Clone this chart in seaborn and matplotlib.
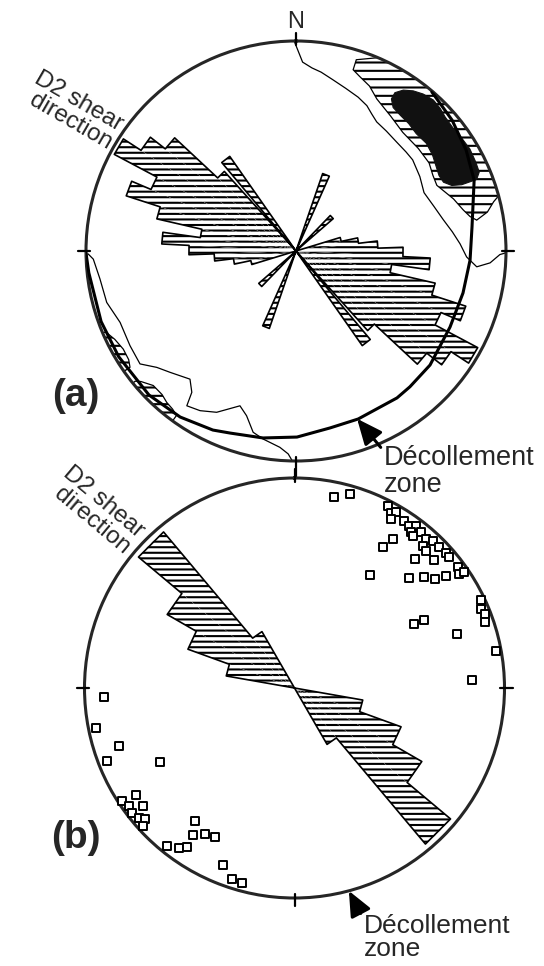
import numpy as np
import matplotlib
matplotlib.use('Agg')
import matplotlib.pyplot as plt
import seaborn as sns

sns.set_style('white')
plt.rcParams['font.family'] = ['Liberation Sans', 'DejaVu Sans']
plt.rcParams['hatch.linewidth'] = 1.5

# ---------------- rose diagrams (axial data, drawn on both ends)
# (a) 5 degree bins: bin start azimuth, bar length (fraction of primitive radius)
rose_a_start = [253, 258, 263, 268, 273, 278, 283, 288, 293, 298, 303, 308, 313, 320, 199, 224]
rose_a_len = [0.22, 0.30, 0.39, 0.51, 0.64, 0.46, 0.68, 0.85, 0.75, 0.98, 0.88, 0.79, 0.51, 0.55, 0.39, 0.235]
rose_a_width = 5
# (b) 10 degree bins
rose_b_start = [280, 290, 300, 310, 320]
rose_b_len = [0.33, 0.54, 0.70, 0.97, 0.31]
rose_b_width = 10

# ---------------- (a) pole density contours (azimuth, radius)
low_ne_az = [359.5, 2, 5, 8, 12, 17, 22, 26, 29, 32, 37, 43, 48, 52, 59, 65.5, 72, 78, 83, 87.5, 92, 95, 93.5, 91, 90.5]
low_ne_r = [1.0, 0.90, 0.875, 0.86, 0.835, 0.81, 0.79, 0.77, 0.745, 0.725, 0.715, 0.706, 0.705, 0.705, 0.688, 0.67,
            0.69, 0.717, 0.75, 0.782, 0.813, 0.864, 0.926, 0.971, 1.0]
low_sw_az = [269.2, 267.7, 261.9, 254.8, 247.9, 240.3, 234.1, 230.1, 226.1, 219.6, 216.4, 215.2, 211, 206.2,
             199.9, 196.7, 193.3, 189.9, 184.7, 182.2, 181]
low_sw_r = [0.99, 0.966, 0.943, 0.934, 0.904, 0.91, 0.917, 0.864, 0.833, 0.792, 0.836, 0.902, 0.887, 0.856,
            0.784, 0.819, 0.887, 0.909, 0.938, 0.967, 1.0]

mid_ne_az = [17.5, 17.5, 20, 24, 28, 35, 42, 50, 56.5, 61, 65, 71.7, 76.2, 78.8, 80.3, 78.5, 76, 74, 65, 55, 45,
             35, 25, 17.5]
mid_ne_r = [0.955, 0.905, 0.885, 0.86, 0.82, 0.785, 0.76, 0.76, 0.76, 0.745, 0.74, 0.79, 0.82, 0.845, 0.873, 0.93,
            0.97, 1.02, 1.02, 1.02, 1.02, 1.02, 1.02, 0.955]
mid_sw1_az = [247, 244, 240.4, 237, 235, 235, 240, 247]
mid_sw1_r = [0.985, 0.96, 0.946, 0.95, 0.965, 1.02, 1.02, 1.02]
mid_sw2_az = [231, 229.9, 226.7, 223, 220.5, 218, 216, 216, 224, 231]
mid_sw2_r = [0.985, 0.965, 0.934, 0.935, 0.948, 0.955, 0.968, 1.02, 1.02, 1.02]

high_az = [32.1, 32, 33.7, 36.2, 39, 42.3, 45.3, 48, 51.8, 55.9, 59.6, 63.7, 66.7, 68.4, 68.2, 67.2, 65, 62.2,
           58.7, 54.8, 50.4, 45.7, 41.5, 37.6, 34.1]
high_r = [0.855, 0.889, 0.921, 0.945, 0.962, 0.972, 0.966, 0.955, 0.95, 0.955, 0.96, 0.955, 0.95, 0.925,
          0.85, 0.805, 0.775, 0.77, 0.78, 0.795, 0.805, 0.80, 0.81, 0.815, 0.825]

# décollement zone trace in (a)
dec_az = [40.5, 50, 59.3, 68.3, 82.2, 93, 104.1, 116.3, 130.4, 140, 145.5, 159.7, 169.1, 179.7, 190, 199.9,
          204.9, 214.9, 225.6, 239.2, 250.1, 264.0, 269.4]
dec_r = [0.996, 0.970, 0.942, 0.913, 0.846, 0.830, 0.820, 0.818, 0.838, 0.844, 0.849, 0.853, 0.858, 0.886, 0.904,
         0.922, 0.940, 0.964, 0.980, 0.983, 0.987, 0.992, 1.0]

# ---------------- (b) poles (azimuth, radius)
pole_az = [11.6, 15.9, 27.1, 28.9, 30.1, 29.8, 33.3, 35.3, 36.9, 36.9, 39.1, 37.8, 41.4, 43.2, 42.0, 43.8, 45.8,
           48.2, 33.4, 32.0, 43.1, 47.5, 49.8, 53.5, 55.3, 55.7, 33.5, 46.2, 49.4, 52.3, 53.4, 64.8, 66.9, 68.7,
           70.9, 61.8, 62.5, 71.8, 79.5, 87.4,
           267.4, 258.6, 251.8, 248.6, 241.4, 235.9, 236.8, 234.5, 232.1, 232.4, 230.2, 228.7, 227.7, 216.7,
           214.6, 211.3, 208.0, 219.0, 215.9, 214.1, 202.1, 198.1, 195.1]
pole_r = [0.929, 0.962, 0.975, 0.954, 0.966, 0.927, 0.953, 0.947, 0.965, 0.926, 0.955, 0.918, 0.946, 0.962, 0.912,
          0.906, 0.961, 0.968, 0.850, 0.794, 0.842, 0.903, 0.965, 0.966, 0.954, 0.978, 0.648, 0.758, 0.815, 0.847,
          0.898, 0.980, 0.964, 0.974, 0.960, 0.648, 0.697, 0.817, 0.974, 0.848,
          0.910, 0.965, 0.879, 0.959, 0.732, 0.913, 0.984, 0.968, 0.917, 0.974, 0.964, 0.948, 0.976, 0.790,
          0.853, 0.816, 0.802, 0.968, 0.938, 0.912, 0.910, 0.957, 0.963]

# tick marks on the primitive: azimuth, outer end
tick_az = [0, 90, 180, 270]
tick_out_a = [1.04, 1.04, 1.09, 1.04]
tick_out_b = [1.045, 1.04, 1.04, 1.035]


def draw_rose(ax, start, length, width):
    start = np.asarray(start, float)
    length = np.asarray(length, float)
    for flip in (0, 180):
        s = (start + flip) % 360
        ax.bar(np.radians(s), length, width=np.radians(width), align='edge', color='white',
               edgecolor='black', linewidth=0, hatch='---', zorder=3)
        # outline of the union of the bars
        th, rr = [], []
        prev = None
        for i in np.argsort(s):
            a0, a1 = s[i], s[i] + width
            if prev is None or abs(a0 - prev) > 0.01:
                if prev is not None:
                    th += [prev, np.nan]
                    rr += [0, np.nan]
                th.append(a0)
                rr.append(0)
            th += [a0, a1]
            rr += [length[i], length[i]]
            prev = a1
        th.append(prev)
        rr.append(0)
        ax.plot(np.radians(th), rr, color='black', lw=1.2, zorder=4)


def setup(ax, labels, tick_out):
    ax.set_theta_zero_location('N')
    ax.set_theta_direction(-1)
    ax.set_xticks(np.radians(tick_az))
    ax.set_xticklabels(labels)
    ax.set_yticks([])
    ax.set_ylim(0, 1)
    ax.grid(False)
    ax.spines['polar'].set_linewidth(2.2)
    ax.tick_params(axis='x', length=0, pad=7, labelsize=17)
    for az, out in zip(tick_az, tick_out):
        ax.plot([np.radians(az)] * 2, [0.98, out], color='black', lw=1.6, clip_on=False, zorder=6)


fig = plt.figure(figsize=(5.44, 9.66), dpi=100)
axa = fig.add_axes([86 / 544, 1 - 461 / 966, 420 / 544, 420 / 966], projection='polar')
axb = fig.add_axes([84.5 / 544, 1 - 898 / 966, 420 / 544, 420 / 966], projection='polar')

# ---- panel (a)
for az, r in ((mid_ne_az, mid_ne_r), (mid_sw1_az, mid_sw1_r), (mid_sw2_az, mid_sw2_r)):
    axa.fill(np.radians(az), r, facecolor='white', edgecolor='black', hatch='--', lw=0.9, zorder=2)
axa.fill(np.radians(high_az), high_r, facecolor='#111111', edgecolor='#111111', lw=0.8, zorder=2.5)
axa.plot(np.radians(low_ne_az), low_ne_r, color='black', lw=0.9, zorder=2)
axa.plot(np.radians(low_sw_az), low_sw_r, color='black', lw=0.9, zorder=2)
draw_rose(axa, rose_a_start, rose_a_len, rose_a_width)
axa.plot(np.radians(dec_az), dec_r, color='black', lw=2.2, zorder=5)
setup(axa, ['N', '', '', ''], tick_out_a)

# ---- panel (b)
draw_rose(axb, rose_b_start, rose_b_len, rose_b_width)
sns.scatterplot(x=np.radians(pole_az), y=pole_r, ax=axb, marker='s', s=26, facecolor='white',
                edgecolor='black', linewidth=1.4, zorder=5, legend=False, clip_on=False)
setup(axb, ['', '', '', ''], tick_out_b)


# ---- labels
def fpos(x, y):
    return x / 544, 1 - y / 966


fig.text(*fpos(116, 135), 'D2 shear\ndirection', rotation=-30, rotation_mode='anchor', ha='right',
         va='center', multialignment='right', fontsize=17.5, linespacing=0.95)
fig.text(*fpos(134, 542), 'D2 shear\ndirection', rotation=-40, rotation_mode='anchor', ha='right',
         va='center', multialignment='right', fontsize=17.5, linespacing=0.95)
fig.text(*fpos(76, 396), '(a)', fontsize=28, fontweight='bold', ha='center', va='center')
fig.text(*fpos(76, 838), '(b)', fontsize=28, fontweight='bold', ha='center', va='center')

arrow = dict(arrowstyle='-|>,head_length=0.8,head_width=0.35', color='black', lw=2.2,
             shrinkA=0, shrinkB=0, relpos=(0, 0.88))
axa.annotate('Décollement\nzone', xy=(np.radians(160), 0.85), xycoords='data',
             xytext=fpos(384, 445), textcoords='figure fraction', ha='left', va='top',
             fontsize=19.5, linespacing=1.05, arrowprops=arrow)
axb.annotate('Décollement\nzone', xy=(np.radians(165), 1.0), xycoords='data',
             xytext=fpos(364, 914), textcoords='figure fraction', ha='left', va='top',
             fontsize=19, linespacing=0.95, arrowprops=arrow)

fig.savefig('out.png', dpi=100)
